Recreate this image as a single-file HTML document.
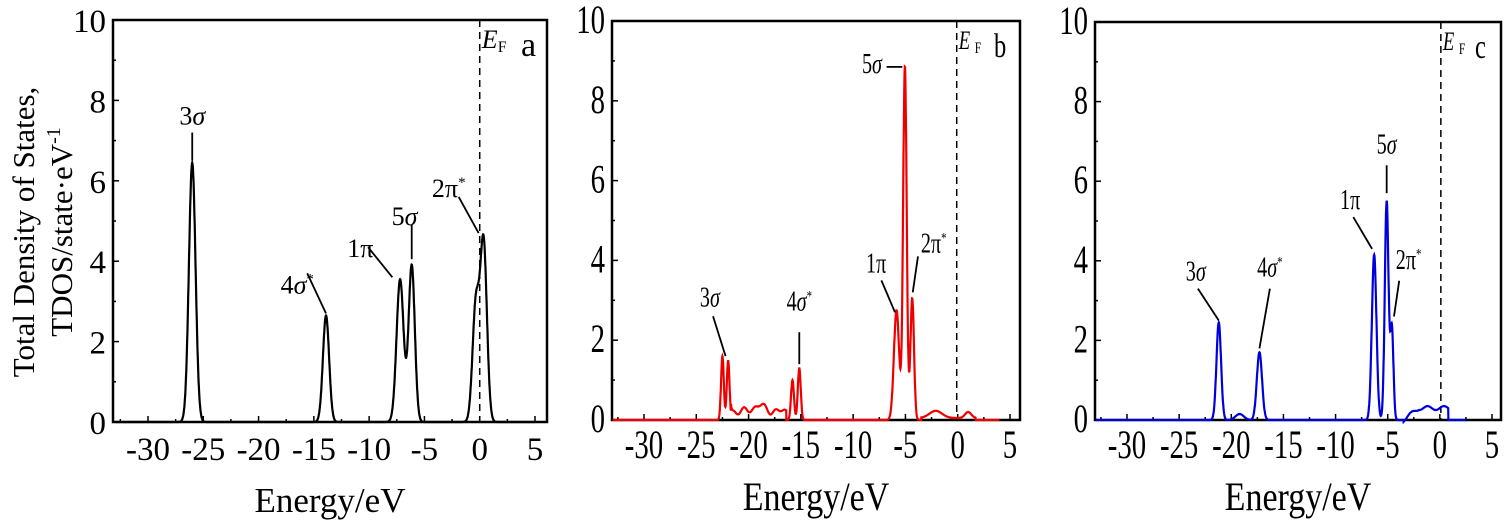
<!DOCTYPE html>
<html><head><meta charset="utf-8"><style>
html,body{margin:0;padding:0;background:#fff;}
svg{display:block;font-family:"Liberation Serif",serif;}
</style></head><body>
<svg id="s" width="1504" height="520" xmlns="http://www.w3.org/2000/svg">
<text transform="translate(34,232) rotate(-90)" font-size="31" text-anchor="middle">Total Density of States,</text>
<text transform="translate(72,232) rotate(-90)" font-size="31" text-anchor="middle">TDOS/state·eV<tspan dy="-12" font-size="20">-1</tspan></text>
</svg>
<script>
const NS="http://www.w3.org/2000/svg",S=document.getElementById('s');
function el(t,a,txt){const e=document.createElementNS(NS,t);for(const k in a)e.setAttribute(k,a[k]);if(txt!=null)e.textContent=txt;S.appendChild(e);return e;}
function tx(x,y,fs,anc,sx,content,html,extra){const a={x:x,y:y,'font-size':fs,'text-anchor':anc};
 if(sx!=1)a.transform=`translate(${x},${y}) scale(${sx},1) translate(${-x},${-y})`;
 Object.assign(a,extra||{});const t=el('text',a);if(html)t.innerHTML=content;else t.textContent=content;return t;}
function panel(P){
 const X=e=>P.x0+(e-(-30))*(P.x5-P.x0)/35, Y=v=>P.yb-(P.yb-P.yt)*v/10;
 el('rect',{x:P.L,y:P.yt,width:P.R-P.L,height:P.yb-P.yt,fill:'none',stroke:'#000','stroke-width':2.5});
 for(let v=0;v<=10;v++){const y=Y(v);el('line',{x1:P.L,x2:P.L+(v%2?3:6),y1:y,y2:y,stroke:'#000','stroke-width':1.5});
  if(v%2==0)tx(P.L-7,y+12,P.tf,'end',P.sx,v);}
 for(let e=-32.5;e<=5;e+=2.5){const x=X(e);if(x<P.L||x>P.R)continue;const maj=Math.abs(e%5)<.01;
  el('line',{x1:x,x2:x,y1:P.yb,y2:P.yb-(maj?6:3),stroke:'#000','stroke-width':1.5});
  if(maj)tx(x,P.yb+38,P.tf,'middle',P.sx,e);}
 el('line',{x1:X(0)+P.efo,x2:X(0)+P.efo,y1:P.yt,y2:P.yb,stroke:'#000','stroke-width':1.5,'stroke-dasharray':'7,5'});
 tx(X(0)+P.efo+2,P.yt+28,26,'start',P.sx,'E',false,{'font-style':'italic'});
 tx(X(0)+P.efo+18,P.yt+32,16,'start',P.sx,'F');
 tx(P.R-26,P.yt+36,34,'start',P.sx,P.lab);
 tx((P.L+P.R)/2,P.yb+90,P.ef,'middle',P.sx2,'Energy/eV');
 let d='';
 for(let e=P.e0;e<=P.e1;e+=0.02){let v=P.f(e);d+=(d?'L':'M')+X(e).toFixed(1)+','+Y(v).toFixed(1);}
 el('path',{d,fill:'none',stroke:P.c,'stroke-width':2.2});
 for(const a of P.ann){el('line',{x1:X(a[0]),y1:Y(a[1]),x2:X(a[2]),y2:Y(a[3]),stroke:'#000','stroke-width':1.8});
  tx(X(a[4]),Y(a[5]),P.af,'middle',P.sx,a[6],true);}
}
const g=(e,m,h,s)=>h*Math.exp(-((e-m)*(e-m))/(2*s*s));
const sig='<tspan font-style="italic">σ</tspan>', st='<tspan dy="-10" font-size="15">*</tspan>';
panel({L:113,R:547,yt:20,yb:422,x0:148,x5:535,efo:0,lab:'a',c:'#000',e0:-33,e1:5,tf:33,ef:35,af:26,sx:1,sx2:1,
 f:e=>g(e,-26,6.45,.3)+g(e,-13.9,2.65,.28)+g(e,-7.2,3.55,.32)+g(e,-6.15,3.9,.28)+g(e,0.35,4.45,.3)+g(e,-0.35,2.9,.3),
 ann:[[-26,6.5,-26,7.2,-26,7.4,'3'+sig],[-13.9,2.7,-15.6,3.7,-16.5,3.2,'4'+sig+st],[-7.9,3.6,-10.1,4.35,-10.8,4.1,'1π'],
 [-6.15,4.05,-6.15,4.9,-6.8,4.9,'5'+sig],[-0.1,4.7,-1.9,5.6,-2.8,5.6,'2π'+st]]});
panel({L:612,R:1020,yt:21,yb:420,x0:644,x5:1010,efo:-1,lab:'b',c:'#e00',e0:-33,e1:4,tf:40,ef:40,af:28,sx:.72,sx2:.85,
 f:e=>{let v=g(e,-22.5,1.6,.13)+g(e,-21.95,1.48,.13)+g(e,-15.8,1.0,.14)+g(e,-15.15,1.3,.14)+g(e,-5.85,2.75,.25)+g(e,-5.05,8.85,.17)+g(e,-4.35,3.05,.17);
  if(e>-21.7&&e<-16.4)v+=0.22+0.1*Math.sin(e*5)*Math.sin(e*1.3)+g(e,-19,0.15,.5);
  if(e>-3.5&&e<1.7)v+=g(e,-2.1,.18,.6)+g(e,1,.15,.3)+0.05; return v;},
 ann:[[-22.2,1.6,-23.4,2.6,-23.7,2.85,'3'+sig],[-15.15,1.4,-15.15,2.2,-15.15,2.75,'4'+sig+st],[-6.0,2.7,-7.3,3.5,-7.8,3.7,'1π'],
 [-5.3,8.85,-6.8,8.85,-8.2,8.7,'5'+sig],[-4.3,3.2,-3.8,4.1,-2.3,4.2,'2π'+st]]});
panel({L:1095,R:1501,yt:22,yb:420,x0:1127,x5:1492,efo:1,lab:'c',c:'#00d',e0:-33,e1:2.5,tf:40,ef:40,af:28,sx:.72,sx2:.85,
 f:e=>{let v=g(e,-21.2,2.45,.22)+g(e,-19.2,.15,.4)+g(e,-17.3,1.7,.25)+g(e,-6.3,4.15,.22)+g(e,-5.1,5.5,.18)+g(e,-4.6,2.3,.15);
  if(e>-3.5&&e<0.8)v+=0.3*Math.min(1,(e+3.5)/1.5)+0.05*Math.sin(e*4); return v;},
 ann:[[-21.2,2.5,-23.2,3.3,-23.4,3.5,'3'+sig],[-17.3,1.8,-16.3,3.3,-16.3,3.6,'4'+sig+st],[-6.5,4.3,-8.3,5.1,-8.6,5.3,'1π'],
 [-5.1,5.7,-5.1,6.4,-5.1,6.7,'5'+sig],[-4.4,2.6,-3.9,3.5,-3.0,3.8,'2π'+st]]});
</script>
</body></html>
